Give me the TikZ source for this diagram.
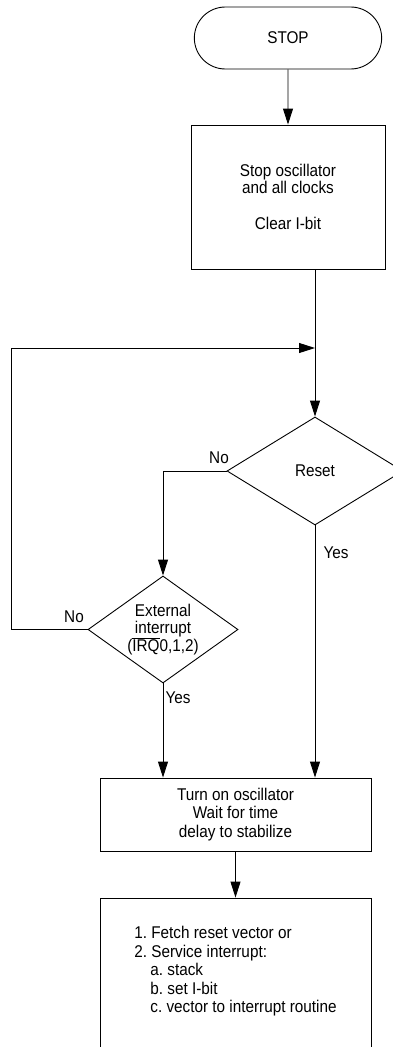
\documentclass[tikz,border=0pt]{standalone}
\usepackage{fontspec}
\setmainfont{Liberation Sans}[FakeStretch=0.9]
\usetikzlibrary{shapes.geometric,shapes.misc,arrows.meta}
\frenchspacing

\begin{document}
\begin{tikzpicture}[x=1pt,y=-1pt]
\tikzset{every node/.append style={font=\fontsize{17}{18.5}\selectfont},
  boite/.style={draw, line width=0.9pt, align=center, inner sep=0pt},
  losange/.style={draw, diamond, line width=0.9pt, align=center, inner sep=0pt, aspect=1.4},
  fleche/.style={-{Triangle[length=16pt,width=10pt]}, line width=0.9pt},
  etiq/.style={inner sep=0pt}}
\useasboundingbox (0,0) rectangle (393,1047);
\clip (0,0) rectangle (393,1047);
\node[draw, rounded rectangle, line width=0.9pt, minimum width=194pt, minimum height=62pt] (stop) at (288,38) {STOP};
\node[boite, minimum width=194pt, minimum height=144pt] (arret) at (288,197) {Stop oscillator\\[-2pt]and all clocks\\[18pt]Clear I-bit};
\node[losange, minimum width=176pt, minimum height=108pt] (reset) at (315,471) {Reset};
\node[losange, minimum width=150pt, minimum height=107pt] (irq) at (163,629.5) {External\\[-1pt]interrupt\\[-1pt](\(\overline{\mbox{IRQ}}\)0,1,2)};
\node[boite, minimum width=271pt, minimum height=73pt] (osc) at (235.5,814.5) {Turn on oscillator\\Wait for time\\delay to stabilize};
\node[boite, minimum width=271pt, minimum height=170pt, align=left] (vect) at (235.5,983) {1. Fetch reset vector or\\2. Service interrupt:\\\hspace*{16pt}a. stack\\\hspace*{16pt}b. set I-bit\\\hspace*{16pt}c. vector to interrupt routine\\[8pt]\mbox{}};
\node[etiq] (non1) at (219,458) {No};
\node[etiq] (oui1) at (336,553) {Yes};
\node[etiq] (non2) at (74,617) {No};
\node[etiq] (oui2) at (178,698) {Yes};
\coordinate (jonction) at (315,348);
\coordinate (gauche) at (11,348);
\draw[fleche] (stop) -- (arret);
\draw[line width=0.9pt] (arret.south -| reset.north) -- (jonction);
\draw[fleche] (jonction) -- (reset.north);
\draw[fleche] (reset.west) -| (irq.north);
\draw[fleche] (reset.south) -- (reset.south |- osc.north);
\draw[fleche] (irq.south) -- (irq.south |- osc.north);
\draw[fleche] (irq.west) -| (gauche) -- (jonction);
\draw[fleche] (osc) -- (vect);
\end{tikzpicture}
\end{document}
